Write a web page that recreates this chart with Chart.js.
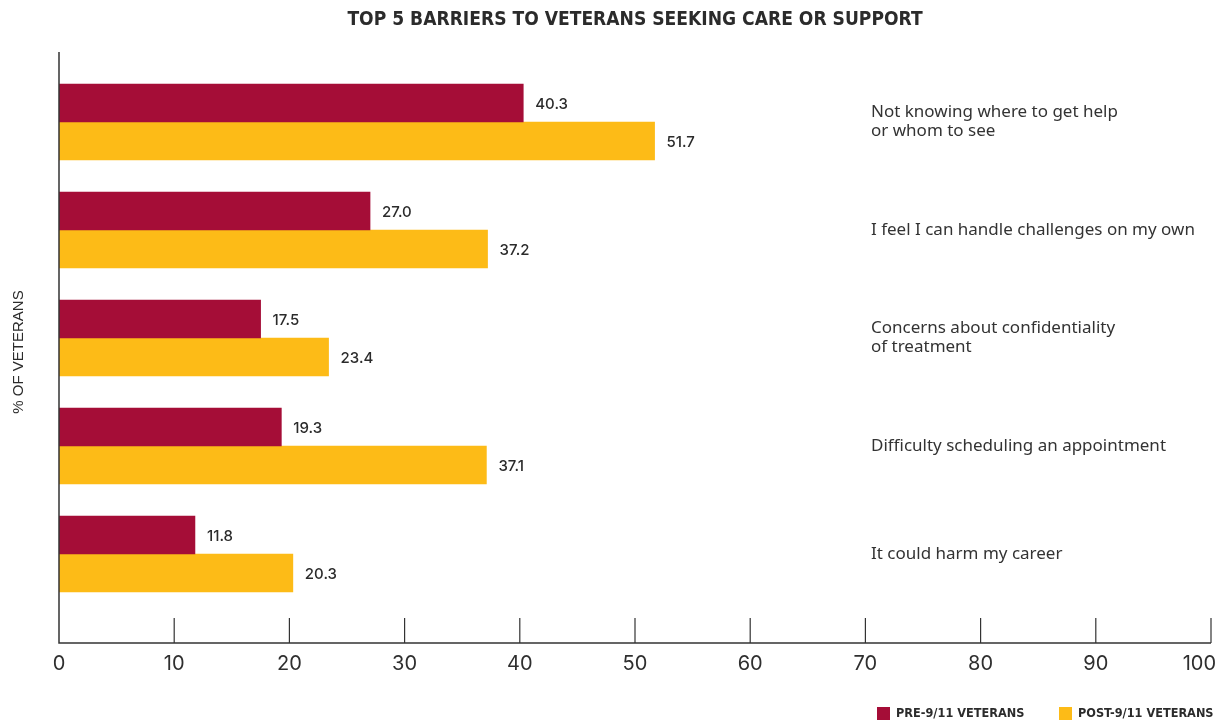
<!DOCTYPE html>
<html>
<head>
<meta charset="utf-8">
<script src="https://cdn.jsdelivr.net/npm/chart.js@4.4.1/dist/chart.umd.min.js"></script>
<style>
  html, body { margin: 0; padding: 0; background: #fff; }
  #wrap { width: 1222px; height: 723px; position: relative; }
</style>
</head>
<body>
<div id="wrap"><canvas id="barriersChart"></canvas></div>
<script>
const chartTitle = 'TOP 5 BARRIERS TO VETERANS SEEKING CARE OR SUPPORT';
const axisTitle = '% OF VETERANS';
const categories = [
    ['Not knowing where to get help', 'or whom to see'],
    ['I feel I can handle challenges on my own'],
    ['Concerns about confidentiality', 'of treatment'],
    ['Difficulty scheduling an appointment'],
    ['It could harm my career']
];
const seriesNames = ['PRE-9/11 VETERANS', 'POST-9/11 VETERANS'];
const preValues = [40.3, 27.0, 17.5, 19.3, 11.8];
const postValues = [51.7, 37.2, 23.4, 37.1, 20.3];
const xTicks = [0, 10, 20, 30, 40, 50, 60, 70, 80, 90, 100];

const MAROON = '#a50d37';
const GOLD = '#fdbb17';
const INK = '#2b2b2b';

// axes, labels, title and legend are painted by hand on top of the bars
const decorPlugin = {
    id: 'decor',
    afterDraw(chart) {
        const ctx = chart.ctx;
        const area = chart.chartArea;
        const xs = chart.scales.x;
        const ys = chart.scales.y;
        const axisY = 643;
        const axisTop = 52;

        ctx.save();

        // title, squeezed a little horizontally
        ctx.save();
        ctx.fillStyle = INK;
        ctx.font = "bold 20px 'Liberation Sans Narrow', 'DejaVu Sans Condensed', sans-serif";
        ctx.textAlign = 'center';
        ctx.textBaseline = 'middle';
        ctx.translate((area.left + area.right) / 2, 20);
        ctx.scale(0.953, 1);
        ctx.fillText(chartTitle, 0, 0);
        ctx.restore();

        // axis lines
        ctx.strokeStyle = '#333';
        ctx.lineWidth = 1.5;
        ctx.beginPath();
        ctx.moveTo(area.left, axisTop);
        ctx.lineTo(area.left, axisY);
        ctx.lineTo(area.right, axisY);
        ctx.stroke();

        // tick marks point up into the plot, labels below
        ctx.lineWidth = 1.2;
        ctx.font = "20px Inter, sans-serif";
        ctx.fillStyle = '#2f2f2f';
        ctx.textBaseline = 'middle';
        xTicks.forEach((t, i) => {
            const px = xs.getPixelForValue(t);
            if (i > 0) {
                ctx.beginPath();
                ctx.moveTo(px, axisY - 25);
                ctx.lineTo(px, axisY);
                ctx.stroke();
            }
            const label = String(t);
            const w = ctx.measureText(label).width;
            let lx = px;
            if (lx + w / 2 > chart.width - 6) lx = chart.width - 6 - w / 2;
            ctx.textAlign = 'center';
            ctx.fillText(label, lx, 664);
        });

        // value labels at the bar ends
        ctx.font = "500 15px Inter, sans-serif";
        ctx.fillStyle = INK;
        ctx.textAlign = 'left';
        chart.data.datasets.forEach((ds, di) => {
            chart.getDatasetMeta(di).data.forEach((bar, i) => {
                ctx.fillText(ds.data[i].toFixed(1), bar.x + 12, bar.y + 1);
            });
        });

        // category labels on the right
        ctx.font = "17px 'Noto Sans', sans-serif";
        ctx.fillStyle = '#333';
        categories.forEach((lines, i) => {
            const cy = ys.getPixelForValue(i);
            const lh = 19;
            const start = cy - (lines.length - 1) * lh / 2;
            lines.forEach((ln, k) => ctx.fillText(ln, 871, start + k * lh));
        });

        // vertical axis title
        ctx.save();
        ctx.translate(19, 352);
        ctx.rotate(-Math.PI / 2);
        ctx.font = "15px 'Liberation Sans', sans-serif";
        ctx.textAlign = 'center';
        ctx.fillStyle = INK;
        ctx.fillText(axisTitle, 0, 0);
        ctx.restore();

        // legend
        ctx.font = "bold 12.6px 'Liberation Sans Narrow', 'DejaVu Sans Condensed', sans-serif";
        ctx.textAlign = 'left';
        const legendX = [877, 1059];
        chart.data.datasets.forEach((ds, di) => {
            ctx.fillStyle = ds.backgroundColor;
            ctx.fillRect(legendX[di], 707, 13, 13);
            ctx.fillStyle = INK;
            ctx.fillText(ds.label, legendX[di] + 19, 714);
        });

        ctx.restore();
    }
};

new Chart(document.getElementById('barriersChart'), {
    type: 'bar',
    data: {
        labels: categories,
        datasets: [
            { label: seriesNames[0], data: preValues, backgroundColor: MAROON, barThickness: 38 },
            { label: seriesNames[1], data: postValues, backgroundColor: GOLD, barThickness: 38 }
        ]
    },
    options: {
        indexAxis: 'y',
        responsive: true,
        maintainAspectRatio: false,
        animation: false,
        layout: { padding: { left: 59, right: 11, top: 68, bottom: 115 } },
        plugins: {
            legend: { display: false },
            tooltip: { enabled: false }
        },
        scales: {
            x: { min: 0, max: 100, display: false },
            y: { display: false }
        }
    },
    plugins: [decorPlugin]
});
</script>
</body>
</html>
